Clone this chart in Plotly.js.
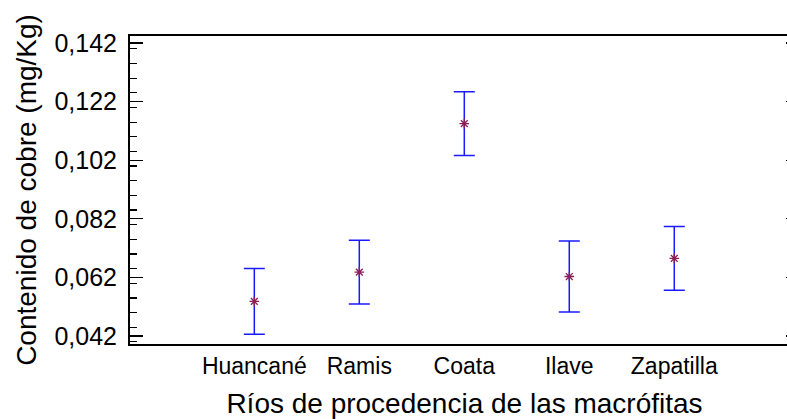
<!DOCTYPE html>
<html>
<head>
<meta charset="utf-8">
<script src="https://cdn.plot.ly/plotly-3.0.1.min.js"></script>
<style>
  html, body { margin: 0; padding: 0; overflow: hidden; background: #fff; }
  #chart { width: 800px; height: 419px; }
</style>
</head>
<body>
<div id="chart"></div>
<script>
// Copper content by river of origin: means with interval bars
const rivers = ['Huancané', 'Ramis', 'Coata', 'Ilave', 'Zapatilla'];
const means = [0.0538, 0.0638, 0.1145, 0.0623, 0.0685];
const halfWidths = [0.0112, 0.0109, 0.0109, 0.0121, 0.0109];
const yTickStart = 0.042;
const yTickStep = 0.02;

const positions = rivers.map((_, i) => i);

const trace = {
  type: 'scatter',
  mode: 'markers',
  x: positions,
  y: means,
  marker: {
    symbol: 'asterisk-open',
    size: 8,
    color: '#8b1f55',
    line: { color: '#8b1f55', width: 1.3 }
  },
  error_y: {
    type: 'data',
    array: halfWidths,
    visible: true,
    color: '#1a1aff',
    thickness: 1.5,
    width: 10.5
  },
  hoverinfo: 'skip'
};

const font = { family: 'Liberation Sans, Arial, sans-serif', color: '#000' };

const layout = {
  width: 800,
  height: 419,
  margin: { l: 130, r: 1, t: 36, b: 75 },
  paper_bgcolor: '#fff',
  plot_bgcolor: '#fff',
  showlegend: false,
  separators: ',.',
  font: font,
  xaxis: {
    range: [-1.184, 5.188],
    tickmode: 'array',
    tickvals: positions,
    ticktext: rivers,
    ticks: '',
    showgrid: false,
    zeroline: false,
    showline: true,
    linecolor: '#000',
    linewidth: 2,
    mirror: true,
    tickfont: { size: 23 },
    title: {
      text: 'Ríos de procedencia de las macrófitas',
      font: { size: 28 },
      standoff: 21
    },
    automargin: false
  },
  yaxis: {
    range: [0.03927, 0.14439],
    tickmode: 'linear',
    tick0: yTickStart,
    dtick: yTickStep,
    tickformat: '.3f',
    ticks: 'inside',
    ticklen: 13,
    tickwidth: 1.2,
    tickcolor: '#000',
    ticklabelstandoff: 6,
    minor: { dtick: 0.005, ticks: 'inside', ticklen: 7, tickwidth: 1.2, tickcolor: '#000' },
    showgrid: false,
    zeroline: false,
    showline: true,
    linecolor: '#000',
    linewidth: 2,
    mirror: 'ticks',
    tickfont: { size: 25 },
    title: {
      text: 'Contenido de cobre (mg/Kg)',
      font: { size: 28 },
      standoff: 10
    },
    automargin: false
  }
};

Plotly.newPlot('chart', [trace], layout, { staticPlot: true, displayModeBar: false });
</script>
</body>
</html>
